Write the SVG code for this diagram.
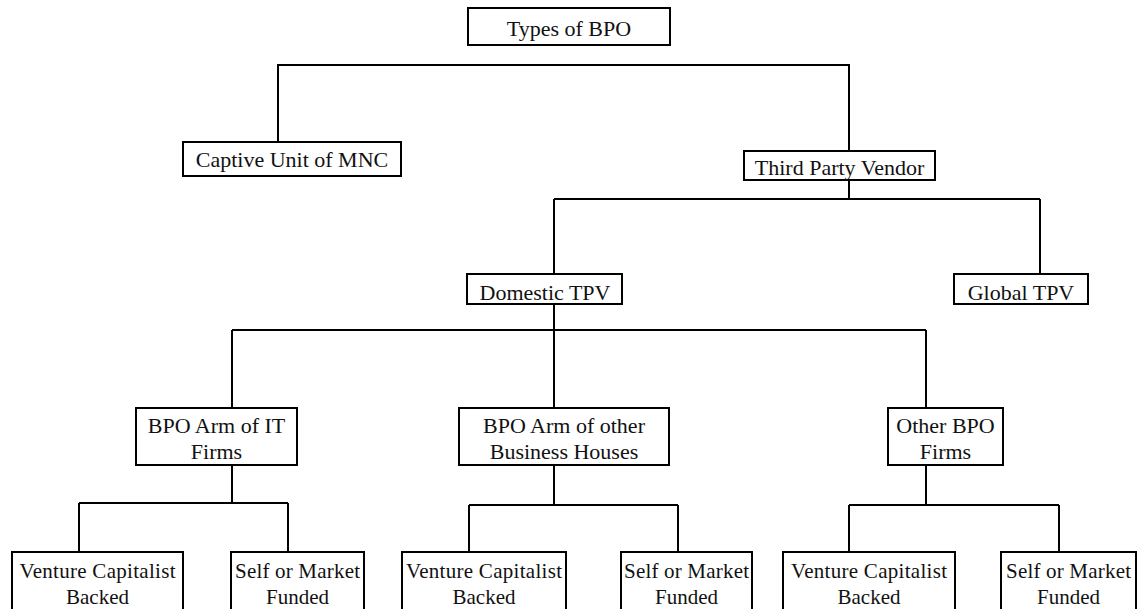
<svg xmlns="http://www.w3.org/2000/svg" width="1138" height="609" viewBox="0 0 1138 609" font-family="'Liberation Serif', 'Times New Roman', Tinos, serif">
<style>
.box{fill:#fff;stroke:#000;stroke-width:2}
.lbl{font-family:'Liberation Serif','Times New Roman',Tinos,serif;font-size:22px;fill:#111;text-anchor:middle}
.sm{font-size:21px}
.conn{fill:none;stroke:#000;stroke-width:2}
</style>
<rect width="1138" height="609" fill="#fff"/>
<g id="connectors" class="conn">
<path d="M278 142V65H849V151"/>
<path d="M849 180V199M554 199H1040M554 199V274M1040 199V274"/>
<path d="M554 304V330M232 330H926M232 330V408M554 330V408M926 330V408"/>
<path d="M232 465V503M79 503H288M79 503V552M288 503V552"/>
<path d="M554 465V505M469 505H678M469 505V552M678 505V552"/>
<path d="M926 465V505M849 505H1059M849 505V552M1059 505V552"/>
</g>
<g id="root"><rect class="box" x="468" y="8" width="202" height="37"/><text class="lbl" x="569" y="36">Types of BPO</text></g>
<g id="captive"><rect class="box" x="183" y="142" width="218" height="34"/><text class="lbl" x="292" y="167">Captive Unit of MNC</text></g>
<g id="tpv"><rect class="box" x="744" y="151" width="191" height="29"/><text class="lbl" x="839.5" y="175">Third Party Vendor</text></g>
<g id="domestic"><rect class="box" x="467" y="274" width="155" height="30"/><text class="lbl" x="545" y="300">Domestic TPV</text></g>
<g id="global"><rect class="box" x="954" y="274" width="134" height="30"/><text class="lbl" x="1021" y="300">Global TPV</text></g>
<g id="it"><rect class="box" x="136" y="408" width="161" height="57"/><text class="lbl" x="216.5" y="433">BPO Arm of IT</text><text class="lbl" x="216.5" y="459">Firms</text></g>
<g id="otherbh"><rect class="box" x="459" y="408" width="210" height="57"/><text class="lbl" x="564" y="433">BPO Arm of other</text><text class="lbl" x="564" y="459">Business Houses</text></g>
<g id="otherbpo"><rect class="box" x="888" y="408" width="115" height="57"/><text class="lbl" x="945.5" y="433">Other BPO</text><text class="lbl" x="945.5" y="459">Firms</text></g>
<g id="vc1"><rect class="box" x="12" y="552" width="171" height="60"/><text class="lbl sm" x="97.5" y="578" textLength="156">Venture Capitalist</text><text class="lbl sm" x="97.5" y="604">Backed</text></g>
<g id="sm1"><rect class="box" x="231" y="552" width="133" height="60"/><text class="lbl sm" x="297.5" y="578" textLength="125">Self or Market</text><text class="lbl sm" x="297.5" y="604">Funded</text></g>
<g id="vc2"><rect class="box" x="402" y="552" width="164" height="60"/><text class="lbl sm" x="484" y="578" textLength="156">Venture Capitalist</text><text class="lbl sm" x="484" y="604">Backed</text></g>
<g id="sm2"><rect class="box" x="621" y="552" width="131" height="60"/><text class="lbl sm" x="686.5" y="578" textLength="125">Self or Market</text><text class="lbl sm" x="686.5" y="604">Funded</text></g>
<g id="vc3"><rect class="box" x="783" y="552" width="172" height="60"/><text class="lbl sm" x="869" y="578" textLength="156">Venture Capitalist</text><text class="lbl sm" x="869" y="604">Backed</text></g>
<g id="sm3"><rect class="box" x="1001" y="552" width="135" height="60"/><text class="lbl sm" x="1068.5" y="578" textLength="125">Self or Market</text><text class="lbl sm" x="1068.5" y="604">Funded</text></g>
</svg>
